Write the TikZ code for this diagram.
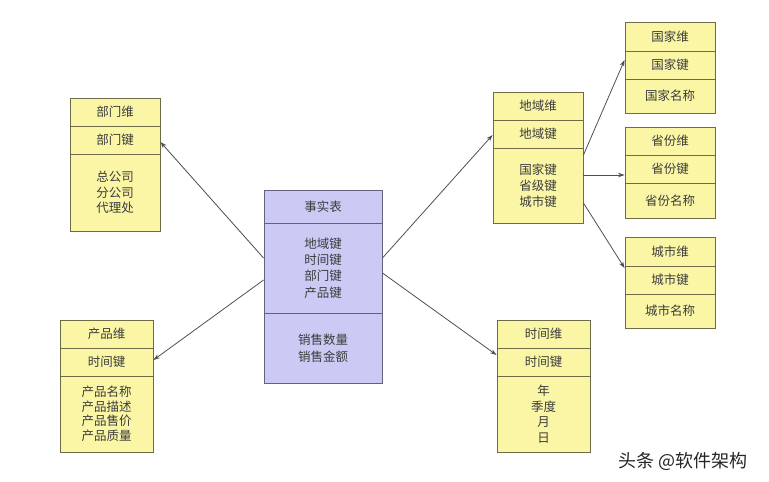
\documentclass[tikz,border=0pt]{standalone}
\usepackage{fontspec}
\setmainfont{Noto Sans CJK SC}
\usetikzlibrary{arrows.meta}
\definecolor{yfill}{HTML}{FAF6A6}
\definecolor{ydraw}{HTML}{6E6B48}
\definecolor{pfill}{HTML}{CACAF4}
\definecolor{pdraw}{HTML}{62627E}
\definecolor{txt}{HTML}{3C3C3C}
\definecolor{arrc}{HTML}{505050}
\begin{document}
\begin{tikzpicture}[x=1pt,y=-1pt,
  cell/.style={draw, line width=0.9pt, inner sep=0pt, text=txt, align=center,
    font=\fontsize{12.5}{15.5}\selectfont},
  ycell/.style={cell, draw=ydraw, fill=yfill},
  pcell/.style={cell, draw=pdraw, fill=pfill},
  arr/.style={draw=arrc, line width=0.8pt, -{Stealth[length=6.5pt,width=4.5pt]}}]
\useasboundingbox[fill=white] (0,0) rectangle (769,482);

% 部门维
\node[ycell, minimum width=90pt, minimum height=28pt] (bm1) at (115,112) {部门维};
\node[ycell, minimum width=90pt, minimum height=28pt] (bm2) at (115,140) {部门键};
\node[ycell, minimum width=90pt, minimum height=77pt] (bm3) at (115,192.5) {总公司\\分公司\\代理处};

% 产品维
\node[ycell, minimum width=93pt, minimum height=28pt] (pm1) at (106.5,334) {产品维};
\node[ycell, minimum width=93pt, minimum height=28pt] (pm2) at (106.5,362) {时间键};
\node[ycell, minimum width=93pt, minimum height=76pt, font=\fontsize{12.5}{14.5}\selectfont] (pm3) at (106.5,414) {产品名称\\产品描述\\产品售价\\产品质量};

% 事实表
\node[pcell, minimum width=118pt, minimum height=33pt] (fa) at (323,206.5) {事实表};
\node[pcell, minimum width=118pt, minimum height=90pt, font=\fontsize{12.5}{16.3}\selectfont] (fb) at (323,268) {地域键\\时间键\\部门键\\产品键};
\node[pcell, minimum width=118pt, minimum height=70pt, font=\fontsize{12.5}{17}\selectfont] (fc) at (323,348) {销售数量\\销售金额};

% 地域维
\node[ycell, minimum width=90pt, minimum height=28pt] (dy1) at (538,106) {地域维};
\node[ycell, minimum width=90pt, minimum height=28pt] (dy2) at (538,134) {地域键};
\node[ycell, minimum width=90pt, minimum height=75pt, font=\fontsize{12.5}{16}\selectfont] (dy3) at (538,185.5) {国家键\\省级键\\城市键};

% 国家维
\node[ycell, minimum width=90pt, minimum height=29pt] (gj1) at (670,36.5) {国家维};
\node[ycell, minimum width=90pt, minimum height=28pt] (gj2) at (670,65) {国家键};
\node[ycell, minimum width=90pt, minimum height=34pt] (gj3) at (670,96) {国家名称};

% 省份维
\node[ycell, minimum width=90pt, minimum height=28pt] (sf1) at (670,141) {省份维};
\node[ycell, minimum width=90pt, minimum height=28pt] (sf2) at (670,169) {省份键};
\node[ycell, minimum width=90pt, minimum height=35pt] (sf3) at (670,200.5) {省份名称};

% 城市维
\node[ycell, minimum width=90pt, minimum height=29pt] (cs1) at (670,251.5) {城市维};
\node[ycell, minimum width=90pt, minimum height=28pt] (cs2) at (670,280) {城市键};
\node[ycell, minimum width=90pt, minimum height=34pt] (cs3) at (670,311) {城市名称};

% 时间维
\node[ycell, minimum width=93pt, minimum height=28pt] (sj1) at (543.5,334) {时间维};
\node[ycell, minimum width=93pt, minimum height=28pt] (sj2) at (543.5,362) {时间键};
\node[ycell, minimum width=93pt, minimum height=76pt] (sj3) at (543.5,414) {年\\季度\\月\\日};

% connectors
\draw[arr] ([yshift=10pt]fb.west) -- ([yshift=-2pt]bm2.east);
\draw[arr] ([yshift=-12pt]fb.west) -- ([yshift=2pt]pm2.east);
\draw[arr] ([yshift=10pt]fb.east) -- ([yshift=-1pt]dy2.west);
\draw[arr] ([yshift=-5pt]fb.east) -- ([yshift=7pt]sj2.west);
\draw[arr] ([yshift=30.5pt]dy3.east) -- ([yshift=5pt]gj2.west);
\draw[arr] ([yshift=10.5pt]dy3.east) -- ([yshift=-6pt]sf2.west);
\draw[arr] ([yshift=-17.5pt]dy3.east) -- ([yshift=12pt]cs2.west);

% watermark
\node[text=black!85, font=\fontsize{18}{20}\selectfont, inner sep=0pt] (wm) at (683,461) {头条 @软件架构};
\end{tikzpicture}
\end{document}
